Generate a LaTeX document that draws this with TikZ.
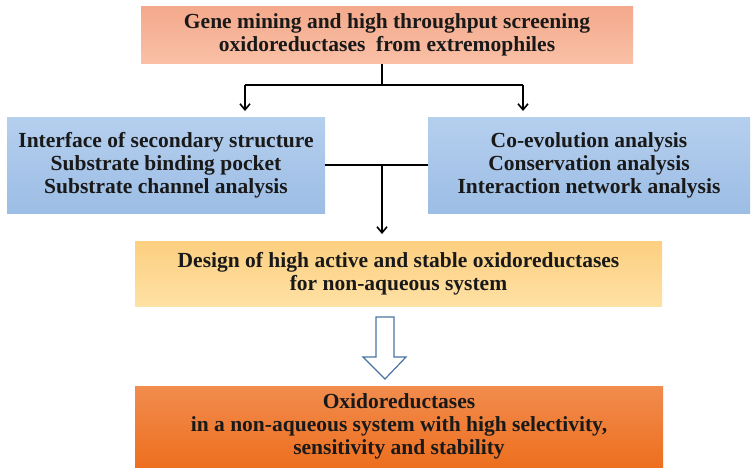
\documentclass[tikz,border=0pt]{standalone}
\usepackage{fontspec}
\setmainfont{Liberation Serif}
\usetikzlibrary{arrows.meta}
\definecolor{salmonT}{HTML}{F4A98C}
\definecolor{salmonB}{HTML}{F9C0A6}
\definecolor{blueT}{HTML}{B5CFEE}
\definecolor{blueB}{HTML}{9CBDE5}
\definecolor{yelT}{HTML}{FDCF80}
\definecolor{yelB}{HTML}{FEE1A4}
\definecolor{orT}{HTML}{F18C4E}
\definecolor{orB}{HTML}{ED6F1F}
\definecolor{arrowblue}{HTML}{4A73A3}
\tikzset{
  box/.style={inner sep=0pt, align=center, font=\fontsize{21.5}{23}\selectfont\bfseries, text=black!90},
  conn/.style={line width=1.8pt, black},
  arr/.style={conn, -{Straight Barb[length=6pt,width=10pt,line width=1.6pt]}},
}
\begin{document}
\begin{tikzpicture}[x=1pt,y=-1pt]
\useasboundingbox (0,0) rectangle (755,475);
\node[box, minimum width=492pt, minimum height=57pt, top color=salmonT, bottom color=salmonB] (top) at (387,35)
  {Gene mining and high throughput screening\\oxidoreductases\ \ from extremophiles};
\node[box, minimum width=318pt, minimum height=96pt, top color=blueT, bottom color=blueB] (left) at (166,165)
  {Interface of secondary structure\\Substrate binding pocket\\Substrate channel analysis};
\node[box, minimum width=322pt, minimum height=96pt, top color=blueT, bottom color=blueB] (right) at (589,165)
  {Co-evolution analysis\\Conservation analysis\\Interaction network analysis};
\node[box, minimum width=527pt, minimum height=65pt, top color=yelT, bottom color=yelB] (design) at (398.5,273.5)
  {Design of high active and stable oxidoreductases\\for non-aqueous system};
\node[box, minimum width=528pt, minimum height=81pt, top color=orT, bottom color=orB] (result) at (399,426.5)
  {Oxidoreductases\\in a non-aqueous system with high selectivity,\\sensitivity and stability};
% top splitter
\coordinate (s1) at (382,64);
\coordinate (s2) at (382,85);
\coordinate (sl) at (245,85);
\coordinate (sr) at (523,85);
\coordinate (tl) at (245,111);
\coordinate (tr) at (523,111);
\draw[conn] (s1) -- (s2);
\draw[conn] (sl) -- (sr);
\draw[arr] (sl) -- (tl);
\draw[arr] (sr) -- (tr);
% join
\coordinate (j) at (382,165);
\coordinate (jt) at (382,234);
\draw[conn] (left.east) -- (right.west);
\draw[arr] (j) -- (jt);
% hollow arrow
\draw[arrowblue, line width=1.2pt, fill=white, line join=miter]
  (376,317) -- (394,317) -- (394,357) -- (406,357) -- (385,379) -- (363,357) -- (376,357) -- cycle;
\end{tikzpicture}
\end{document}
